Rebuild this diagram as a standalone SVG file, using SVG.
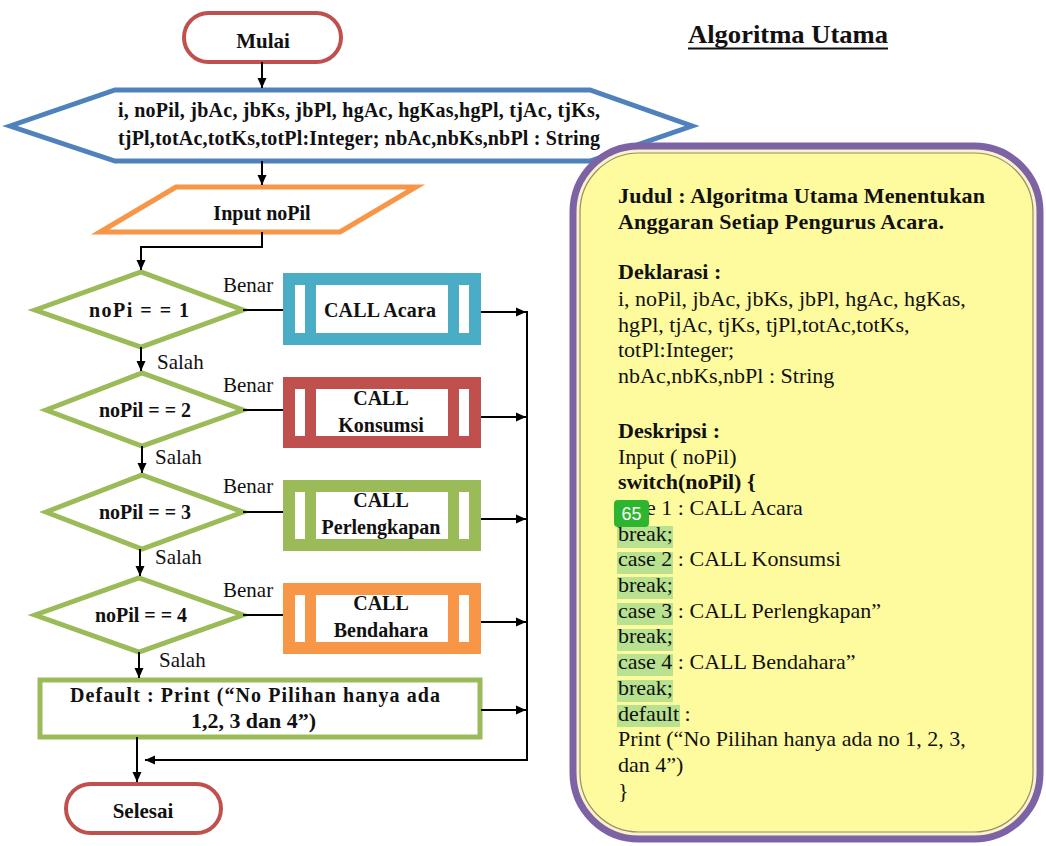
<svg xmlns="http://www.w3.org/2000/svg" width="1046" height="846" viewBox="0 0 1046 846">
  <style>
    .b { font-family: "Liberation Serif", "Times New Roman", serif; font-weight: bold; font-size: 20px; fill: #111; }
    .r { font-family: "Liberation Serif", "Times New Roman", serif; font-size: 21px; fill: #111; }
    .c { font-family: "Liberation Serif", "Times New Roman", serif; font-size: 22px; fill: #111; }
    .cb { font-family: "Liberation Serif", "Times New Roman", serif; font-size: 22px; font-weight: bold; fill: #111; }
    .mid { text-anchor: middle; }
    .term { fill: #fff; stroke: #c0504d; stroke-width: 4; }
    .dec { fill: #fff; stroke: #9bbb59; stroke-width: 5; stroke-linejoin: miter; }
    .sub { fill: #fff; stroke-width: 12; }
    .bar { stroke-width: 11; }
    .wire { fill: none; stroke: #000; stroke-width: 2; }
    .hl { fill: #b8e190; }
  </style>
  <defs>
    <marker id="arrow" markerUnits="userSpaceOnUse" markerWidth="10" markerHeight="10" viewBox="0 0 10 10" refX="10" refY="5" orient="auto">
      <path d="M0,0.5 L10,5 L0,9.5 z" fill="#000"/>
    </marker>
  </defs>

  <rect width="1046" height="846" fill="#fff"/>

  <!-- page heading -->
  <g id="heading">
    <text class="cb" x="688" y="43" style="font-size:26px" textLength="200" lengthAdjust="spacingAndGlyphs">Algoritma Utama</text>
    <line x1="688" y1="48.5" x2="888" y2="48.5" stroke="#111" stroke-width="2"/>
  </g>

  <!-- flowchart nodes -->
  <g id="mulai">
    <rect class="term" x="184" y="13" width="157" height="49" rx="24.5"/>
    <text class="b mid" x="263" y="48" style="font-size:21px">Mulai</text>
  </g>

  <g id="deklarasi">
    <polygon points="10,126 115,90 590,90 692,126 590,161 115,161" fill="#fff" stroke="#4f81bd" stroke-width="5"/>
    <text class="b" x="118" y="117" textLength="482" lengthAdjust="spacing">i, noPil, jbAc, jbKs, jbPl, hgAc, hgKas,hgPl, tjAc, tjKs,</text>
    <text class="b" x="118" y="145" textLength="482" lengthAdjust="spacing">tjPl,totAc,totKs,totPl:Integer; nbAc,nbKs,nbPl : String</text>
  </g>

  <g id="input">
    <polygon points="176,187 416,187 340,232 100,232" fill="#fff" stroke="#f79646" stroke-width="5"/>
    <text class="b mid" x="262" y="220">Input noPil</text>
  </g>

  <g id="cek1">
    <polygon class="dec" points="35,310 141,272 243,310 141,347"/>
    <text class="b mid" x="139" y="317" textLength="100" lengthAdjust="spacing">noPi = = 1</text>
  </g>
  <g id="cek2">
    <polygon class="dec" points="46,410 142,373 243,410 142,446"/>
    <text class="b mid" x="145" y="417">noPil = = 2</text>
  </g>
  <g id="cek3">
    <polygon class="dec" points="46,512 142,475 243,512 142,549"/>
    <text class="b mid" x="145" y="519">noPil = = 3</text>
  </g>
  <g id="cek4">
    <polygon class="dec" points="35,615 139,578 243,615 139,652"/>
    <text class="b mid" x="141" y="622">noPil = = 4</text>
  </g>

  <g id="acara">
    <rect class="sub" x="289" y="279" width="186" height="60" stroke="#4bacc6"/>
    <line class="bar" x1="310.5" y1="279" x2="310.5" y2="339" stroke="#4bacc6"/>
    <line class="bar" x1="453.5" y1="279" x2="453.5" y2="339" stroke="#4bacc6"/>
    <text class="b mid" x="380" y="317" textLength="112" lengthAdjust="spacing">CALL Acara</text>
  </g>
  <g id="konsumsi">
    <rect class="sub" x="289" y="383" width="186" height="59" stroke="#c0504d"/>
    <line class="bar" x1="310.5" y1="383" x2="310.5" y2="442" stroke="#c0504d"/>
    <line class="bar" x1="453.5" y1="383" x2="453.5" y2="442" stroke="#c0504d"/>
    <text class="b mid" x="381" y="405">CALL</text>
    <text class="b mid" x="381" y="432">Konsumsi</text>
  </g>
  <g id="perlengkapan">
    <rect class="sub" x="289" y="486" width="186" height="59" stroke="#9bbb59"/>
    <line class="bar" x1="310.5" y1="486" x2="310.5" y2="545" stroke="#9bbb59"/>
    <line class="bar" x1="453.5" y1="486" x2="453.5" y2="545" stroke="#9bbb59"/>
    <text class="b mid" x="381" y="507">CALL</text>
    <text class="b mid" x="381" y="534">Perlengkapan</text>
  </g>
  <g id="bendahara">
    <rect class="sub" x="289" y="589" width="186" height="59" stroke="#f79646"/>
    <line class="bar" x1="310.5" y1="589" x2="310.5" y2="648" stroke="#f79646"/>
    <line class="bar" x1="453.5" y1="589" x2="453.5" y2="648" stroke="#f79646"/>
    <text class="b mid" x="381" y="610">CALL</text>
    <text class="b mid" x="381" y="637">Bendahara</text>
  </g>

  <g id="default">
    <rect x="40" y="680" width="440" height="57" fill="#fff" stroke="#9bbb59" stroke-width="5"/>
    <text class="b" x="70" y="702" textLength="370" lengthAdjust="spacing">Default : Print (“No Pilihan hanya ada</text>
    <text class="b" x="191" y="728" textLength="125" lengthAdjust="spacingAndGlyphs">1,2, 3 dan 4”)</text>
  </g>

  <g id="selesai">
    <rect class="term" x="66" y="784" width="155" height="49" rx="24.5"/>
    <text class="b mid" x="143" y="818" style="font-size:21px">Selesai</text>
  </g>

  <!-- connectors -->
  <g id="connectors">
    <line class="wire" x1="262" y1="62" x2="262" y2="88" marker-end="url(#arrow)"/>
    <line class="wire" x1="262" y1="161" x2="262" y2="185" marker-end="url(#arrow)"/>
    <polyline class="wire" points="262,232 262,247 141,247 141,270" marker-end="url(#arrow)"/>
    <line class="wire" x1="141" y1="347" x2="141" y2="371" marker-end="url(#arrow)"/>
    <line class="wire" x1="142" y1="446" x2="142" y2="473" marker-end="url(#arrow)"/>
    <line class="wire" x1="140" y1="549" x2="140" y2="576" marker-end="url(#arrow)"/>
    <line class="wire" x1="139" y1="652" x2="139" y2="678" marker-end="url(#arrow)"/>
    <line class="wire" x1="137" y1="737" x2="137" y2="782" marker-end="url(#arrow)"/>

    <line class="wire" x1="243" y1="310" x2="283" y2="310" stroke-width="1.5"/>
    <line class="wire" x1="243" y1="410" x2="283" y2="410" stroke-width="1.5"/>
    <line class="wire" x1="243" y1="512" x2="283" y2="512" stroke-width="1.5"/>
    <line class="wire" x1="243" y1="615" x2="283" y2="615" stroke-width="1.5"/>

    <line class="wire" x1="481" y1="312" x2="526" y2="312" marker-end="url(#arrow)"/>
    <line class="wire" x1="481" y1="417" x2="526" y2="417" marker-end="url(#arrow)"/>
    <line class="wire" x1="481" y1="519" x2="526" y2="519" marker-end="url(#arrow)"/>
    <line class="wire" x1="481" y1="622" x2="526" y2="622" marker-end="url(#arrow)"/>
    <line class="wire" x1="481" y1="710" x2="526" y2="710" marker-end="url(#arrow)"/>
    <polyline class="wire" points="527,311 527,760 145,760" marker-end="url(#arrow)"/>

    <text class="r" x="223" y="292">Benar</text>
    <text class="r" x="223" y="392">Benar</text>
    <text class="r" x="223" y="493">Benar</text>
    <text class="r" x="223" y="597">Benar</text>
    <text class="r" x="157" y="369">Salah</text>
    <text class="r" x="155" y="464">Salah</text>
    <text class="r" x="155" y="564">Salah</text>
    <text class="r" x="159" y="667">Salah</text>
  </g>

  <!-- pseudocode card -->
  <g id="pseudocode">
    <rect x="573" y="146" width="467" height="693" rx="66" fill="#fefa9e" stroke="#7d62a6" stroke-width="7"/>
    <rect x="578" y="151" width="457" height="683" rx="61" fill="none" stroke="#f6f1dc" stroke-width="2"/>
    <rect x="580" y="153" width="453" height="679" rx="59" fill="none" stroke="#9c8a6c" stroke-width="1.2"/>

    <rect class="hl" x="617" y="526" width="56" height="22"/>
    <rect class="hl" x="617" y="552" width="56" height="22"/>
    <rect class="hl" x="617" y="577" width="56" height="22"/>
    <rect class="hl" x="617" y="603" width="56" height="22"/>
    <rect class="hl" x="617" y="629" width="56" height="22"/>
    <rect class="hl" x="617" y="654" width="56" height="22"/>
    <rect class="hl" x="617" y="680" width="56" height="22"/>
    <rect class="hl" x="617" y="705" width="63" height="22"/>

    <text class="cb" x="618" y="203" textLength="367" lengthAdjust="spacing">Judul : Algoritma Utama Menentukan</text>
    <text class="cb" x="618" y="229" textLength="326" lengthAdjust="spacing">Anggaran Setiap Pengurus Acara.</text>
    <text class="cb" x="618" y="279">Deklarasi :</text>
    <text class="c" x="618" y="306">i, noPil, jbAc, jbKs, jbPl, hgAc, hgKas,</text>
    <text class="c" x="618" y="332">hgPl, tjAc, tjKs, tjPl,totAc,totKs,</text>
    <text class="c" x="618" y="357">totPl:Integer;</text>
    <text class="c" x="618" y="383">nbAc,nbKs,nbPl : String</text>
    <text class="cb" x="618" y="438">Deskripsi :</text>
    <text class="c" x="618" y="464">Input ( noPil)</text>
    <text class="cb" x="618" y="489">switch(noPil) {</text>
    <text class="c" x="618" y="515">case 1 : CALL Acara</text>
    <text class="c" x="618" y="541">break;</text>
    <text class="c" x="618" y="566">case 2 : CALL Konsumsi</text>
    <text class="c" x="618" y="592">break;</text>
    <text class="c" x="618" y="618">case 3 : CALL Perlengkapan”</text>
    <text class="c" x="618" y="643">break;</text>
    <text class="c" x="618" y="669">case 4 : CALL Bendahara”</text>
    <text class="c" x="618" y="695">break;</text>
    <text class="c" x="618" y="721">default :</text>
    <text class="c" x="618" y="746">Print (“No Pilihan hanya ada no 1, 2, 3,</text>
    <text class="c" x="618" y="772">dan 4”)</text>
    <text class="c" x="618" y="798">}</text>

    <rect x="614" y="500" width="35" height="27" rx="4" fill="#2db52f"/>
    <text x="631.5" y="520" text-anchor="middle" font-family="'Liberation Sans', Arial, sans-serif" font-size="18" fill="#fff">65</text>
  </g>
</svg>
